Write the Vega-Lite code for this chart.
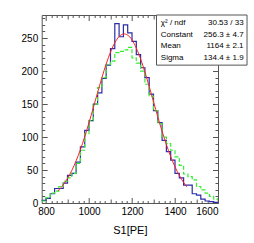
{
  "$schema": "https://vega.github.io/schema/vega-lite/v6.json",
  "width": 176.3,
  "height": 188,
  "autosize": {"type": "none"},
  "padding": {"left": 41.7, "top": 15, "right": 36, "bottom": 40},
  "background": "white",
  "config": {
    "view": {"stroke": "#555555", "strokeWidth": 1},
    "axis": {"grid": false, "domain": false, "labelFont": "Liberation Sans", "titleFont": "Liberation Sans", "labelColor": "#000000", "titleColor": "#000000", "tickColor": "#555555", "tickWidth": 1}
  },
  "datasets": {
    "hist": [
      {"s": "blue", "x": 780, "y": 4}, {"s": "blue", "x": 800, "y": 7}, {"s": "blue", "x": 820, "y": 14}, {"s": "blue", "x": 840, "y": 22},
      {"s": "blue", "x": 860, "y": 22}, {"s": "blue", "x": 880, "y": 30}, {"s": "blue", "x": 900, "y": 42}, {"s": "blue", "x": 920, "y": 45},
      {"s": "blue", "x": 940, "y": 62}, {"s": "blue", "x": 960, "y": 85}, {"s": "blue", "x": 980, "y": 110}, {"s": "blue", "x": 1000, "y": 125},
      {"s": "blue", "x": 1020, "y": 150}, {"s": "blue", "x": 1040, "y": 167}, {"s": "blue", "x": 1060, "y": 189}, {"s": "blue", "x": 1080, "y": 209},
      {"s": "blue", "x": 1100, "y": 234}, {"s": "blue", "x": 1120, "y": 272}, {"s": "blue", "x": 1140, "y": 252}, {"s": "blue", "x": 1160, "y": 270},
      {"s": "blue", "x": 1180, "y": 258}, {"s": "blue", "x": 1200, "y": 245}, {"s": "blue", "x": 1220, "y": 225}, {"s": "blue", "x": 1240, "y": 205},
      {"s": "blue", "x": 1260, "y": 190}, {"s": "blue", "x": 1280, "y": 165}, {"s": "blue", "x": 1300, "y": 140}, {"s": "blue", "x": 1320, "y": 122},
      {"s": "blue", "x": 1340, "y": 95}, {"s": "blue", "x": 1360, "y": 78}, {"s": "blue", "x": 1380, "y": 65}, {"s": "blue", "x": 1400, "y": 45},
      {"s": "blue", "x": 1420, "y": 38}, {"s": "blue", "x": 1440, "y": 27}, {"s": "blue", "x": 1460, "y": 27}, {"s": "blue", "x": 1480, "y": 14},
      {"s": "blue", "x": 1500, "y": 12}, {"s": "blue", "x": 1520, "y": 6}, {"s": "blue", "x": 1540, "y": 3}, {"s": "blue", "x": 1560, "y": 2},
      {"s": "blue", "x": 1580, "y": 1}, {"s": "blue", "x": 1600, "y": 1},
      {"s": "green", "x": 780, "y": 3}, {"s": "green", "x": 800, "y": 8}, {"s": "green", "x": 820, "y": 15}, {"s": "green", "x": 840, "y": 18},
      {"s": "green", "x": 860, "y": 25}, {"s": "green", "x": 880, "y": 33}, {"s": "green", "x": 900, "y": 38}, {"s": "green", "x": 920, "y": 45},
      {"s": "green", "x": 940, "y": 60}, {"s": "green", "x": 960, "y": 80}, {"s": "green", "x": 980, "y": 105}, {"s": "green", "x": 1000, "y": 125},
      {"s": "green", "x": 1020, "y": 150}, {"s": "green", "x": 1040, "y": 175}, {"s": "green", "x": 1060, "y": 190}, {"s": "green", "x": 1080, "y": 210},
      {"s": "green", "x": 1100, "y": 215}, {"s": "green", "x": 1120, "y": 228}, {"s": "green", "x": 1140, "y": 230}, {"s": "green", "x": 1160, "y": 232},
      {"s": "green", "x": 1180, "y": 236}, {"s": "green", "x": 1200, "y": 220}, {"s": "green", "x": 1220, "y": 212}, {"s": "green", "x": 1240, "y": 200},
      {"s": "green", "x": 1260, "y": 180}, {"s": "green", "x": 1280, "y": 162}, {"s": "green", "x": 1300, "y": 140}, {"s": "green", "x": 1320, "y": 120},
      {"s": "green", "x": 1340, "y": 100}, {"s": "green", "x": 1360, "y": 90}, {"s": "green", "x": 1380, "y": 80}, {"s": "green", "x": 1400, "y": 70},
      {"s": "green", "x": 1420, "y": 57}, {"s": "green", "x": 1440, "y": 44}, {"s": "green", "x": 1460, "y": 40}, {"s": "green", "x": 1480, "y": 35},
      {"s": "green", "x": 1500, "y": 25}, {"s": "green", "x": 1520, "y": 20}, {"s": "green", "x": 1540, "y": 15}, {"s": "green", "x": 1560, "y": 10},
      {"s": "green", "x": 1580, "y": 6}, {"s": "green", "x": 1600, "y": 6}
    ],
    "fit": [
      {"x": 855, "y": 18.2}, {"x": 870, "y": 23.4}, {"x": 890, "y": 32.1}, {"x": 910, "y": 43.0}, {"x": 930, "y": 56.3},
      {"x": 950, "y": 72.1}, {"x": 970, "y": 90.4}, {"x": 990, "y": 110.9}, {"x": 1010, "y": 132.9}, {"x": 1030, "y": 155.9},
      {"x": 1050, "y": 178.9}, {"x": 1070, "y": 200.7}, {"x": 1090, "y": 220.2}, {"x": 1110, "y": 236.4}, {"x": 1130, "y": 248.2},
      {"x": 1150, "y": 254.9}, {"x": 1164, "y": 256.3}, {"x": 1170, "y": 256.0}, {"x": 1190, "y": 251.6}, {"x": 1210, "y": 241.7},
      {"x": 1230, "y": 227.2}, {"x": 1250, "y": 208.9}, {"x": 1270, "y": 187.8}, {"x": 1290, "y": 165.2}, {"x": 1310, "y": 142.1},
      {"x": 1330, "y": 119.5}, {"x": 1350, "y": 98.4}, {"x": 1370, "y": 79.2}, {"x": 1390, "y": 62.3}, {"x": 1410, "y": 48.0},
      {"x": 1430, "y": 36.2}, {"x": 1450, "y": 26.6}, {"x": 1455, "y": 24.6}
    ]
  },
  "resolve": {"axis": {"x": "independent", "y": "independent"}},
  "layer": [
    {
      "data": {"name": "hist"},
      "transform": [{"filter": "datum.s === 'blue'"}],
      "mark": {"type": "line", "interpolate": "step-after", "color": "#2b2ba8", "strokeWidth": 1.2},
      "encoding": {
        "x": {"field": "x", "type": "quantitative", "scale": {"domain": [780, 1600], "nice": false, "zero": false},
              "axis": {"orient": "bottom", "values": [800, 1000, 1200, 1400, 1600], "format": "d", "ticks": false, "labelPadding": 3, "labelFontSize": 10, "title": "S1[PE]", "titleFontSize": 11, "titleFontWeight": "normal", "titlePadding": 8}},
        "y": {"field": "y", "type": "quantitative", "scale": {"domain": [0, 285], "nice": false, "zero": true},
              "axis": {"orient": "left", "values": [0, 50, 100, 150, 200, 250], "ticks": false, "labelPadding": 4, "labelFontSize": 10, "title": null}}
      }
    },
    {
      "data": {"name": "hist"},
      "transform": [{"filter": "datum.s === 'green'"}],
      "mark": {"type": "line", "interpolate": "step-after", "color": "#33ee33", "strokeWidth": 1.2, "strokeDash": [4, 2]},
      "encoding": {
        "x": {"field": "x", "type": "quantitative", "axis": {"orient": "bottom", "values": [800, 1000, 1200, 1400, 1600], "labels": false, "tickSize": -5.5, "title": null}},
        "y": {"field": "y", "type": "quantitative", "axis": {"orient": "left", "values": [0, 50, 100, 150, 200, 250], "labels": false, "tickSize": -5.5, "title": null}}
      }
    },
    {
      "data": {"name": "fit"},
      "mark": {"type": "line", "interpolate": "monotone", "color": "#ff2020", "strokeWidth": 1},
      "encoding": {
        "x": {"field": "x", "type": "quantitative", "axis": {"orient": "bottom", "values": [900, 1100, 1300, 1500], "labels": false, "tickSize": -4, "title": null}},
        "y": {"field": "y", "type": "quantitative", "axis": {"orient": "left", "values": [10, 20, 30, 40, 60, 70, 80, 90, 110, 120, 130, 140, 160, 170, 180, 190, 210, 220, 230, 240, 260, 270, 280], "labels": false, "tickSize": -3, "title": null}}
      }
    },
    {
      "data": {"name": "fit"},
      "mark": {"type": "line", "strokeOpacity": 0},
      "encoding": {
        "x": {"field": "x", "type": "quantitative", "axis": {"orient": "bottom", "values": [825, 850, 875, 925, 950, 975, 1025, 1050, 1075, 1125, 1150, 1175, 1225, 1250, 1275, 1325, 1350, 1375, 1425, 1450, 1475, 1525, 1550, 1575], "labels": false, "tickSize": -2.5, "title": null}},
        "y": {"field": "y", "type": "quantitative", "axis": {"orient": "right", "values": [0, 50, 100, 150, 200, 250], "labels": false, "tickSize": -5.5, "title": null}}
      }
    },
    {
      "data": {"name": "fit"},
      "mark": {"type": "line", "strokeOpacity": 0},
      "encoding": {
        "x": {"field": "x", "type": "quantitative", "axis": {"orient": "top", "values": [800, 1000, 1200, 1400, 1600], "labels": false, "tickSize": -5.5, "title": null}},
        "y": {"field": "y", "type": "quantitative", "axis": {"orient": "right", "values": [10, 20, 30, 40, 60, 70, 80, 90, 110, 120, 130, 140, 160, 170, 180, 190, 210, 220, 230, 240, 260, 270, 280], "labels": false, "tickSize": -3, "title": null}}
      }
    },
    {
      "data": {"name": "fit"},
      "mark": {"type": "line", "strokeOpacity": 0},
      "encoding": {
        "x": {"field": "x", "type": "quantitative", "axis": {"orient": "top", "values": [900, 1100, 1300, 1500], "labels": false, "tickSize": -4, "title": null}},
        "y": {"field": "y", "type": "quantitative", "axis": null}
      }
    },
    {
      "data": {"name": "fit"},
      "mark": {"type": "line", "strokeOpacity": 0},
      "encoding": {
        "x": {"field": "x", "type": "quantitative", "axis": {"orient": "top", "values": [825, 850, 875, 925, 950, 975, 1025, 1050, 1075, 1125, 1150, 1175, 1225, 1250, 1275, 1325, 1350, 1375, 1425, 1450, 1475, 1525, 1550, 1575], "labels": false, "tickSize": -2.5, "title": null}},
        "y": {"field": "y", "type": "quantitative", "axis": null}
      }
    },
    {
      "data": {"values": [{}]},
      "mark": {"type": "rect", "fill": "white", "stroke": "#555555", "strokeWidth": 1, "clip": false},
      "encoding": {
        "x": {"datum": 1314, "type": "quantitative", "axis": null},
        "x2": {"datum": 1735},
        "y": {"datum": 285, "type": "quantitative", "axis": null},
        "y2": {"datum": 209}
      }
    },
    {
      "data": {"values": [{}]},
      "mark": {"type": "text", "align": "left", "baseline": "middle", "font": "Liberation Sans", "fontSize": 8, "lineHeight": 11.9, "color": "#000000", "clip": false,
               "text": ["χ² / ndf", "Constant", "Mean", "Sigma"]},
      "encoding": {
        "x": {"datum": 1334, "type": "quantitative", "axis": null},
        "y": {"datum": 273.4, "type": "quantitative", "axis": null}
      }
    },
    {
      "data": {"values": [{}]},
      "mark": {"type": "text", "align": "right", "baseline": "middle", "font": "Liberation Sans", "fontSize": 8, "lineHeight": 11.9, "color": "#000000", "clip": false,
               "text": ["30.53 / 33", "256.3 ± 4.7", "1164 ± 2.1", "134.4 ± 1.9"]},
      "encoding": {
        "x": {"datum": 1719, "type": "quantitative", "axis": null},
        "y": {"datum": 273.4, "type": "quantitative", "axis": null}
      }
    }
  ]
}
